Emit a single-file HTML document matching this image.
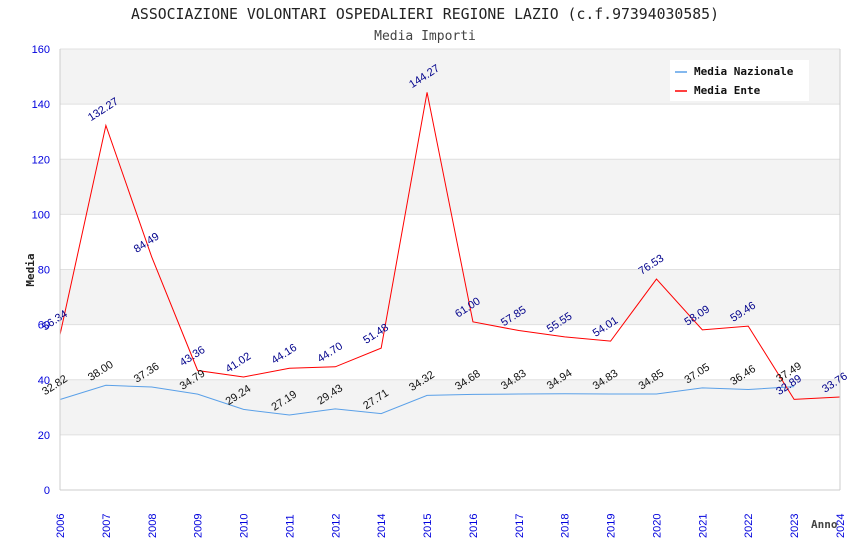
<!DOCTYPE html>
<html><head><meta charset="utf-8"><style>
body{margin:0;background:#fff;width:850px;height:550px;overflow:hidden}
text{font-family:"DejaVu Sans Mono","Liberation Mono",monospace}
.lbl{font-family:"Liberation Sans",sans-serif;font-size:11px}
</style></head><body>
<svg id="chart" width="850" height="550">
<text x="425" y="19" text-anchor="middle" font-size="14.8" fill="#222">ASSOCIAZIONE VOLONTARI OSPEDALIERI REGIONE LAZIO (c.f.97394030585)</text>
<text x="425" y="40" text-anchor="middle" font-size="13" fill="#444">Media Importi</text>
<g id="grid"></g><g id="series"></g><g id="labels"></g><g id="axes"></g>
<text x="0" y="0" transform="translate(34,270) rotate(-90)" text-anchor="middle" font-size="11" font-weight="bold" fill="#222">Media</text>
<text x="811" y="528" font-size="11" font-weight="bold" fill="#444">Anno</text>
<g>
<rect x="670" y="60" width="139" height="41" fill="#fff"/>
<line x1="675" y1="72" x2="687" y2="72" stroke="#5aa0e8" stroke-width="1.5"/>
<text x="694" y="75" font-size="11" font-weight="bold" fill="#111">Media Nazionale</text>
<line x1="675" y1="91" x2="687" y2="91" stroke="#f00" stroke-width="1.5"/>
<text x="694" y="94" font-size="11" font-weight="bold" fill="#111">Media Ente</text>
</g>
</svg>
<script>
const years=["2006","2007","2008","2009","2010","2011","2012","2014","2015","2016","2017","2018","2019","2020","2021","2022","2023","2024"];
const nazionale=[32.82,38.00,37.36,34.79,29.24,27.19,29.43,27.71,34.32,34.68,34.83,34.94,34.83,34.85,37.05,36.46,37.49,null];
const ente=[56.34,132.27,84.49,43.36,41.02,44.16,44.70,51.48,144.27,61.00,57.85,55.55,54.01,76.53,58.09,59.46,32.89,33.76];
const yTicks=[0,20,40,60,80,100,120,140,160];
const X0=60,X1=840,Y0=490,Y1=49,YMAX=160;
const xs=i=>X0+(X1-X0)*i/(years.length-1);
const ys=v=>Y0-(Y0-Y1)*v/YMAX;
const NS="http://www.w3.org/2000/svg";
function mk(tag,attrs,parent,txt){const e=document.createElementNS(NS,tag);for(const k in attrs)e.setAttribute(k,attrs[k]);if(txt!=null)e.textContent=txt;document.getElementById(parent).appendChild(e);return e;}
for(let i=0;i<yTicks.length-1;i++){
  if(i%2===1){const r=mk('rect',{x:X0,y:ys(yTicks[i+1]),width:X1-X0,height:ys(yTicks[i])-ys(yTicks[i+1]),fill:'#f3f3f3'},'grid');
  
  }
}
yTicks.forEach(t=>{
  const l=mk('line',{x1:X0,x2:X1,y1:ys(t),y2:ys(t),stroke:'#e0e0e0'},'grid');
  
  
  const tx=mk('text',{x:X0-10,y:ys(t)+4,'text-anchor':'end','font-size':11,fill:'#0000dd',class:'lbl'},'axes',t);
  
  
});
mk('line',{x1:X0,x2:X0,y1:Y1,y2:Y0,stroke:'#ccc'},'axes');
mk('line',{x1:X1,x2:X1,y1:Y1,y2:Y0,stroke:'#ccc'},'axes');
mk('line',{x1:X0,x2:X1,y1:Y0,y2:Y0,stroke:'#ccc'},'axes');
years.forEach((y,i)=>{
  const t=mk('text',{transform:`translate(${xs(i)+4},${Y0+48}) rotate(-90)`,'font-size':11,fill:'#0000dd',class:'lbl'},'axes',y);
  
  
});
function drawSeries(vals,color,lblColor,name){
  let d='';vals.forEach((v,i)=>{if(v==null)return;d+=(d?'L':'M')+xs(i)+','+ys(v);});
  const p=mk('path',{d:d,fill:'none',stroke:color,'stroke-width':1},'series');
  
  
  vals.forEach((v,i)=>{if(v==null)return;
    const t=mk('text',{transform:`translate(${xs(i)-15},${ys(v)-4}) rotate(-33)`,'font-size':11,fill:lblColor,class:'lbl'},'labels',v.toFixed(2));
    
    
  });
}
drawSeries(nazionale,'#5aa0e8','#111','nazionale');
drawSeries(ente,'#f00','#00008b','ente');
</script>
</body></html>
